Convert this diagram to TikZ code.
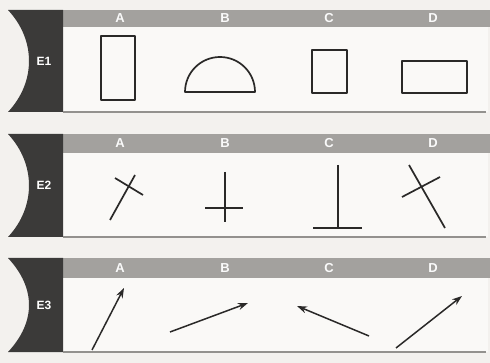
\documentclass[tikz,border=0pt]{standalone}
\usepackage{fontspec}
\setmainfont{Liberation Sans}
\usetikzlibrary{arrows.meta}
\definecolor{bgc}{HTML}{F3F1EE}
\definecolor{bodyc}{HTML}{FAF9F7}
\definecolor{tabc}{HTML}{3B3A39}
\definecolor{hdrc}{HTML}{A3A19E}
\definecolor{inkc}{HTML}{2A2928}
\tikzset{
  tabshape/.style={fill=tabc, draw=none},
  hdrbar/.style={fill=hdrc, draw=none},
  bodybox/.style={fill=bodyc, draw=none},
  baseline line/.style={draw=hdrc!90!black, line width=1.2pt},
  tablabel/.style={text=white, font=\bfseries\fontsize{12}{12}\selectfont, inner sep=0pt},
  hdrlabel/.style={text=white!95!hdrc, font=\bfseries\fontsize{13}{13}\selectfont, inner sep=0pt},
  figline/.style={draw=inkc, line width=1.7pt, line join=round},
  figarrow/.style={draw=inkc, line width=1.5pt, -{Stealth[length=10pt,width=7pt]}}
}
\newcommand\panelrow[5]{%
  % #1 top, #2 header bottom, #3 bottom, #4 label, #5 name
  \path[bodybox] (63,#1) rectangle (488,#3);
  \path[hdrbar] (63,#1) rectangle (490,#2);
  \path[tabshape] (63,#1) -- (8,#1) .. controls (36,{#1+30}) and (36,{#3-30}) .. (8,#3) -- (63,#3) -- cycle;
  \draw[baseline line] (63,#3) -- (486,#3);
  \node[tablabel] (#5tab) at (44,{(#1+#3)/2}) {#4};
  \node[hdrlabel] (#5A) at (120,{(#1+#2)/2}) {A};
  \node[hdrlabel] (#5B) at (225,{(#1+#2)/2}) {B};
  \node[hdrlabel] (#5C) at (329,{(#1+#2)/2}) {C};
  \node[hdrlabel] (#5D) at (433,{(#1+#2)/2}) {D};
}
\begin{document}
\begin{tikzpicture}[x=1pt,y=-1pt]
\path[fill=bgc] (0,0) rectangle (490,363);
\useasboundingbox (0,0) rectangle (490,363);
\panelrow{10}{27}{112}{E1}{r1}
\panelrow{134}{153}{237}{E2}{r2}
\panelrow{258}{278}{352}{E3}{r3}
% Row E1 shapes
\draw[figline] (101,36) rectangle (135,100);
\draw[figline] (185,92) arc[start angle=180, end angle=360, radius=35] -- cycle;
\draw[figline] (312,50) rectangle (347,93);
\draw[figline] (402,61) rectangle (467,93);
% Row E2 shapes
\draw[figline] (110,220) -- (135,175);
\draw[figline] (115,178) -- (143,195);
\draw[figline] (225,172) -- (225,222);
\draw[figline] (205,208) -- (243,208);
\draw[figline] (338,165) -- (338,228);
\draw[figline] (313,228) -- (362,228);
\draw[figline] (409,165) -- (445,228);
\draw[figline] (402,197) -- (440,177);
% Row E3 arrows
\coordinate (a1) at (92,350);  \coordinate (a2) at (124,288);
\coordinate (b1) at (170,332); \coordinate (b2) at (248,303);
\coordinate (c1) at (369,336); \coordinate (c2) at (297,306);
\coordinate (d1) at (396,348); \coordinate (d2) at (462,296);
\draw[figarrow] (a1) -- (a2);
\draw[figarrow] (b1) -- (b2);
\draw[figarrow] (c1) -- (c2);
\draw[figarrow] (d1) -- (d2);
\end{tikzpicture}
\end{document}
